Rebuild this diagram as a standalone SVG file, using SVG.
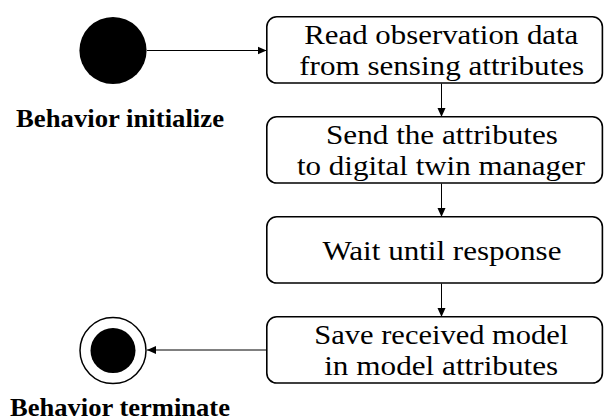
<svg xmlns="http://www.w3.org/2000/svg" width="604" height="420" viewBox="0 0 604 420">
<defs>
<style>
.box{fill:#fff;stroke:#000;stroke-width:1.6}
.t{font-family:"Liberation Serif","DejaVu Serif",serif;font-size:27px;fill:#000;text-anchor:middle}
.lbl{font-family:"Liberation Serif","DejaVu Serif",serif;font-size:25px;font-weight:bold;fill:#000;text-anchor:middle}
.edge{fill:none;stroke:#000;stroke-width:1;marker-end:url(#ah)}
</style>
<marker id="ah" markerUnits="userSpaceOnUse" viewBox="0 0 9 9" refX="9" refY="4.5" markerWidth="9" markerHeight="9" orient="auto">
<path d="M0,0.5 L9,4.5 L0,8.5 z" fill="#000"/>
</marker>
</defs>
<rect width="604" height="420" fill="#fff"/>
<g id="connectors">
<line class="edge" x1="147" y1="50.5" x2="266.5" y2="50.5"/>
<line class="edge" x1="441.5" y1="83.5" x2="441.5" y2="117"/>
<line class="edge" x1="441.5" y1="183.5" x2="441.5" y2="217"/>
<line class="edge" x1="441.5" y1="283.5" x2="441.5" y2="317"/>
<line class="edge" x1="266" y1="350" x2="147" y2="350"/>
</g>
<g id="start">
<circle cx="113" cy="50.5" r="33.6" fill="#000"/>
<text class="lbl" x="120" y="126.7" textLength="208" lengthAdjust="spacingAndGlyphs">Behavior initialize</text>
</g>
<g id="read">
<rect class="box" x="266.8" y="16.8" width="335.6" height="66.2" rx="10"/>
<text class="t" x="441.3" y="43.5" textLength="274" lengthAdjust="spacingAndGlyphs">Read observation data</text>
<text class="t" x="441.7" y="75" textLength="285" lengthAdjust="spacingAndGlyphs">from sensing attributes</text>
</g>
<g id="send">
<rect class="box" x="266.8" y="116.8" width="335.6" height="66.2" rx="10"/>
<text class="t" x="442" y="143.5" textLength="232" lengthAdjust="spacingAndGlyphs">Send the attributes</text>
<text class="t" x="441" y="175" textLength="288" lengthAdjust="spacingAndGlyphs">to digital twin manager</text>
</g>
<g id="wait">
<rect class="box" x="266.8" y="216.8" width="335.6" height="66.2" rx="10"/>
<text class="t" x="442" y="259.5" textLength="239" lengthAdjust="spacingAndGlyphs">Wait until response</text>
</g>
<g id="save">
<rect class="box" x="266.8" y="316.8" width="335.6" height="66.2" rx="10"/>
<text class="t" x="441.3" y="343.5" textLength="254" lengthAdjust="spacingAndGlyphs">Save received model</text>
<text class="t" x="441.2" y="375" textLength="234" lengthAdjust="spacingAndGlyphs">in model attributes</text>
</g>
<g id="end">
<circle cx="113" cy="350.6" r="33" fill="#fff" stroke="#000" stroke-width="1.5"/>
<circle cx="113" cy="350.6" r="22.5" fill="#000"/>
<text class="lbl" x="120" y="416" textLength="220" lengthAdjust="spacingAndGlyphs">Behavior terminate</text>
</g>
</svg>
